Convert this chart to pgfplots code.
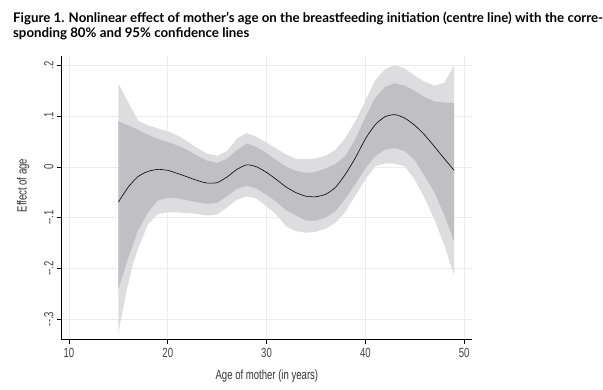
\documentclass[border=0pt]{standalone}
\usepackage{pgfplots}
\pgfplotsset{compat=1.18}
\usepgfplotslibrary{fillbetween}
\usepackage{fontspec}
\setmainfont{Liberation Sans}
\newfontfamily\cond[FakeStretch=0.72]{Liberation Sans}
\newfontfamily\titlefont{Lato}
\definecolor{outerband}{HTML}{DDDDE0}
\definecolor{innerband}{HTML}{BFBFC4}
\definecolor{gridc}{HTML}{EBEBEB}
\begin{document}
\begin{tikzpicture}
\path (0,0) rectangle (603bp,-392bp);
\node[anchor=base west, inner sep=0pt] at (13bp,-22.5bp) {\titlefont\bfseries\fontsize{13.4}{15}\selectfont Figure 1. Nonlinear effect of mother’s age on the breastfeeding initiation (centre line) with the corre-};
\node[anchor=base west, inner sep=0pt] at (13bp,-37.8bp) {\titlefont\bfseries\fontsize{13.4}{15}\selectfont sponding 80\% and 95\% confidence lines};
\begin{axis}[
  at={(61.7bp,-341bp)}, anchor=south west,
  scale only axis, width=413.3bp, height=284.3bp,
  xmin=9.23, xmax=50.84, ymin=-0.34, ymax=0.218,
  axis x line*=bottom, axis y line*=left,
  axis line style={-, line width=0.9pt},
  xtick={10,20,30,40,50}, xticklabels={10,20,30,40,50},
  ytick={-0.3,-0.2,-0.1,0,0.1,0.2},
  yticklabels={{--.3},{--.2},{--.1},0,.1,.2},
  tick align=outside, major tick length=4.5bp,
  tick style={line width=0.7pt, black},
  grid=major, grid style={gridc, line width=0.6pt},
  ticklabel style={font=\cond\fontsize{13.4}{15}\selectfont, text=black!75},
  xticklabel style={yshift=-1bp},
  yticklabel style={rotate=90, anchor=south, xshift=0bp},
  xlabel={Age of mother (in years)},
  ylabel={Effect of age},
  label style={font=\cond\fontsize{13.4}{15}\selectfont, text=black!80},
  xlabel style={at={(axis description cs:0.5,0)}, anchor=base, yshift=-41bp},
  ylabel style={at={(axis description cs:0,0.543)}, anchor=base, rotate=0, yshift=35bp},
]
\addplot[draw=none, name path=ou] coordinates {
(15,0.164) (17,0.091) (18,0.082) (19,0.076) (20,0.070) (21,0.062) (22,0.050) (23,0.037) (24,0.026) (25,0.022) (26,0.031) (27,0.056) (28,0.067) (29,0.059) (30,0.048) (31,0.036) (32,0.024) (33,0.016) (34,0.015) (35,0.017) (36,0.022) (37,0.034) (38,0.058) (39,0.090) (40,0.130) (41,0.171) (42,0.193) (43,0.201) (44,0.194) (45,0.180) (46,0.168) (47,0.160) (48,0.166) (49,0.201)};
\addplot[draw=none, name path=ol] coordinates {
(15,-0.3275) (15.8,-0.248) (16.5,-0.190) (17.1,-0.156) (18,-0.113) (19,-0.093) (20,-0.090) (21,-0.090) (22,-0.091) (23,-0.093) (24,-0.096) (25,-0.094) (26,-0.080) (27,-0.065) (28,-0.058) (29,-0.063) (30,-0.078) (31,-0.094) (32,-0.118) (33,-0.127) (34,-0.130) (35,-0.128) (36,-0.122) (37,-0.110) (38,-0.088) (39,-0.056) (40,-0.025) (41,0.001) (42,0.007) (43,0.006) (44,0.001) (45,-0.025) (46,-0.062) (47,-0.104) (48,-0.155) (49,-0.215)};
\addplot[outerband, draw=none] fill between[of=ou and ol];
\addplot[draw=none, name path=iu] coordinates {
(15,0.090) (16,0.082) (17,0.073) (18,0.063) (19,0.055) (20,0.049) (21,0.042) (22,0.033) (23,0.022) (24,0.012) (25,0.008) (26,0.016) (27,0.033) (28,0.046) (29,0.039) (30,0.027) (31,0.013) (32,0.000) (33,-0.008) (34,-0.012) (35,-0.010) (36,-0.003) (37,0.006) (38,0.022) (39,0.055) (40,0.098) (41,0.136) (42,0.158) (43,0.165) (44,0.160) (45,0.150) (46,0.138) (47,0.129) (48,0.127) (49,0.126)};
\addplot[draw=none, name path=il] coordinates {
(15,-0.241) (16,-0.180) (17,-0.125) (18,-0.090) (19,-0.066) (20,-0.061) (21,-0.062) (22,-0.066) (23,-0.070) (24,-0.073) (25,-0.071) (26,-0.058) (27,-0.043) (28,-0.037) (29,-0.043) (30,-0.055) (31,-0.069) (32,-0.086) (33,-0.096) (34,-0.106) (35,-0.106) (36,-0.100) (37,-0.087) (38,-0.062) (39,-0.034) (40,-0.003) (41,0.021) (42,0.034) (43,0.037) (44,0.031) (45,0.013) (46,-0.018) (47,-0.051) (48,-0.095) (49,-0.149)};
\addplot[innerband, draw=none] fill between[of=iu and il];
\addplot[black, line width=0.6pt, smooth, tension=0.4] coordinates {
(15,-0.0695) (16,-0.040) (17,-0.019) (18,-0.009) (19,-0.005) (20,-0.007) (21,-0.013) (22,-0.020) (23,-0.027) (24,-0.032) (25,-0.031) (26,-0.020) (27,-0.005) (28,0.004) (29,0.000) (30,-0.011) (31,-0.025) (32,-0.040) (33,-0.051) (34,-0.058) (35,-0.059) (36,-0.054) (37,-0.040) (38,-0.014) (39,0.018) (40,0.055) (41,0.083) (42,0.099) (43,0.103) (44,0.096) (45,0.082) (46,0.063) (47,0.040) (48,0.016) (49,-0.007)};
\end{axis}
\end{tikzpicture}
\end{document}
